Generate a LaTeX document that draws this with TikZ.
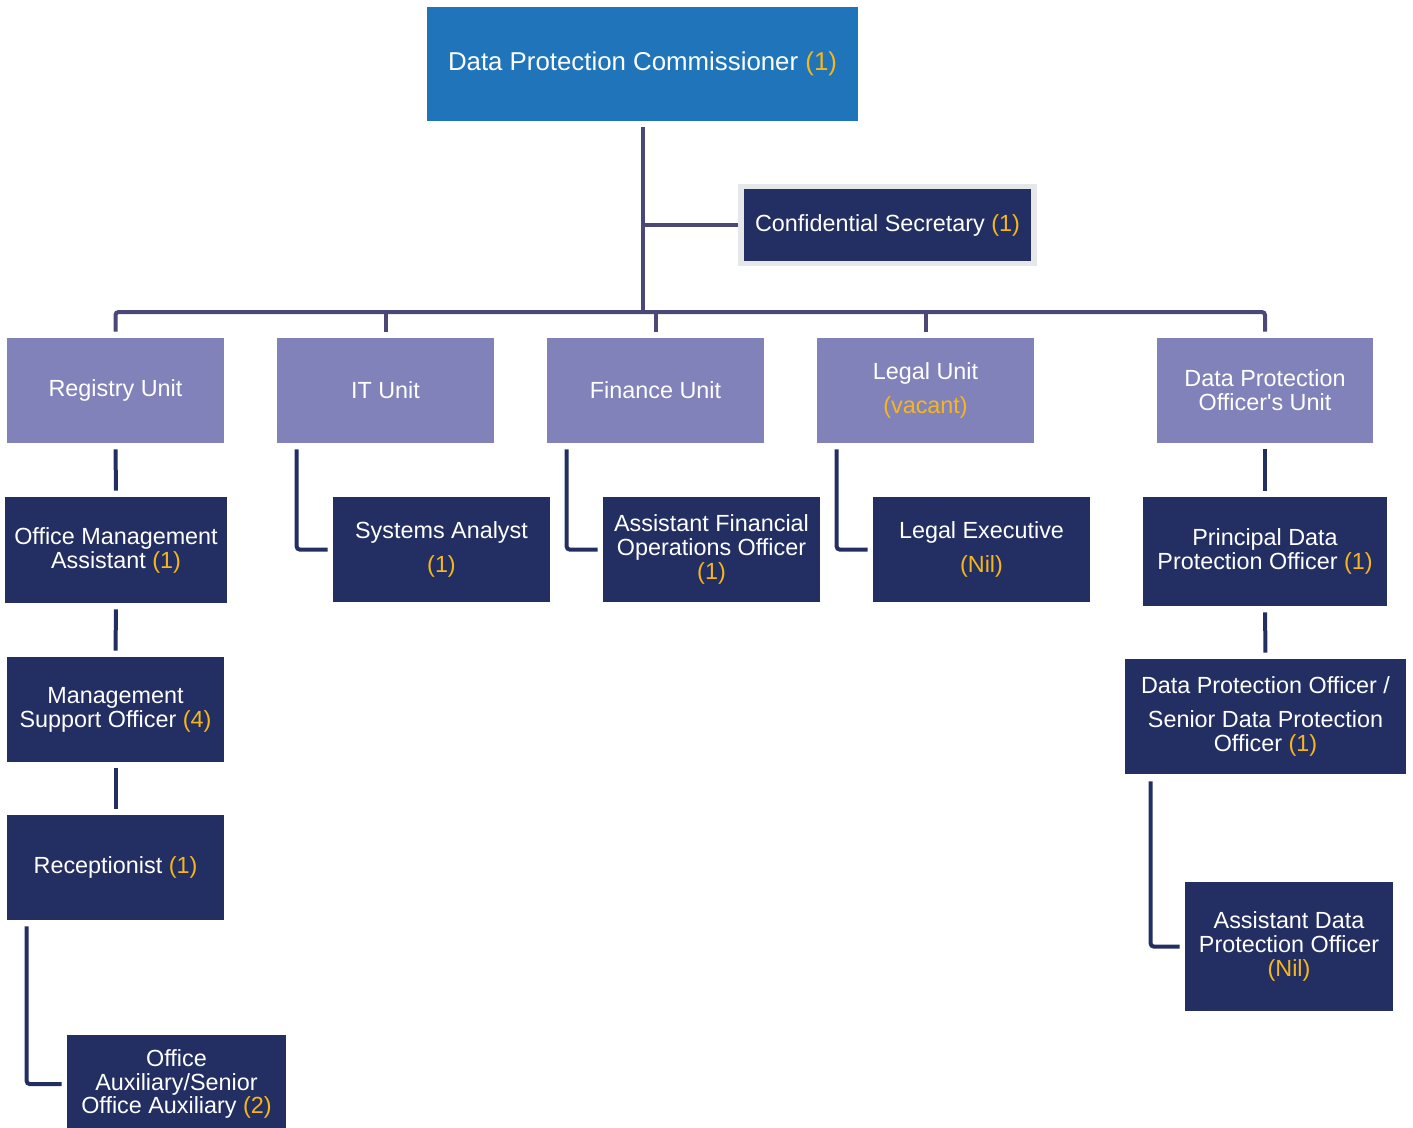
\documentclass[tikz,border=0pt]{standalone}
\usepackage{fontspec}
\setmainfont{Liberation Sans}
\definecolor{headblue}{HTML}{1F74BA}
\definecolor{unitlav}{HTML}{8282BA}
\definecolor{postnavy}{HTML}{232F62}
\definecolor{toplinecol}{HTML}{4B4878}
\definecolor{countcol}{HTML}{F6B61B}
\definecolor{secborder}{HTML}{E6E7E8}
\newcommand{\hc}[1]{\textcolor{countcol}{#1}}
\begin{document}
\begin{tikzpicture}[x=0.02cm, y=-0.02cm,
    box/.style={text=white, align=center, inner sep=0pt,
        font=\fontsize{13.3}{13.6}\selectfont},
    head/.style={box, fill=headblue, minimum width=8.62cm, minimum height=2.28cm,
        font=\fontsize{14.7}{16}\selectfont},
    unit/.style={box, fill=unitlav, minimum width=4.34cm, minimum height=2.1cm},
    post/.style={box, fill=postnavy, minimum width=4.34cm, minimum height=2.1cm},
    toplink/.style={draw=toplinecol, line width=0.08cm, rounded corners=0.06cm},
    sublink/.style={draw=postnavy, line width=0.08cm, rounded corners=0.06cm}]
    \useasboundingbox (0,0) rectangle (1413,1127);
    % top
    \node[head] (dpc) at (642.5,64) {Data Protection Commissioner \hc{(1)}};
    \node[post, draw=secborder, line width=0.11cm, minimum width=5.87cm,
        minimum height=1.54cm] (sec) at (887.5,225) {Confidential Secretary \hc{(1)}};
    \coordinate (bus) at (642.5,312);
    % units
    \node[unit] (reg) at (115.5,390.5) {Registry Unit};
    \node[unit] (itu) at (385.5,390.5) {IT Unit};
    \node[unit] (fin) at (655.5,390.5) {Finance Unit};
    \node[unit] (leg) at (925.5,390.5) {Legal Unit\\[5.5pt]\hc{(vacant)}};
    \node[unit] (dpou) at (1265,390.5) {Data Protection\\Officer\textquotesingle s Unit};
    % posts
    \node[post, minimum width=4.44cm, minimum height=2.12cm] (oma) at (116,550) {Office Management\\Assistant \hc{(1)}};
    \node[post] (mso) at (115.5,709.5) {Management\\Support Officer \hc{(4)}};
    \node[post] (rec) at (115.5,867.5) {Receptionist \hc{(1)}};
    \node[post, minimum width=4.38cm, minimum height=1.96cm] (oa) at (176.5,1084) {Office\\Auxiliary/Senior\\Office Auxiliary \hc{(2)}};
    \node[post] (sa) at (441.5,549.5) {Systems Analyst\\[5.5pt]\hc{(1)}};
    \node[post] (afo) at (711.5,549.5) {Assistant Financial\\Operations Officer\\\hc{(1)}};
    \node[post] (lex) at (981.5,549.5) {Legal Executive\\[5.5pt]\hc{(Nil)}};
    \node[post, minimum width=4.88cm, minimum height=2.18cm] (pdpo) at (1265,551.5) {Principal Data\\Protection Officer \hc{(1)}};
    \node[post, minimum width=5.62cm, minimum height=2.3cm] (sdpo) at (1265.5,716.5) {Data Protection Officer /\\[5.5pt]Senior Data Protection\\Officer \hc{(1)}};
    \node[post, minimum width=4.16cm, minimum height=2.58cm] (adpo) at (1289,946.5) {Assistant Data\\Protection Officer\\\hc{(Nil)}};
    % top links
    \draw[toplink, shorten <=0.12cm] (dpc.south) -- (bus);
    \draw[toplink] (dpc.south |- sec.west) -- (sec.west);
    \draw[toplink, shorten <=0.12cm, shorten >=0.12cm] (reg.north) |- (bus) -| (dpou.north);
    \draw[toplink, shorten >=0.12cm] (itu.north |- bus) -- (itu.north);
    \draw[toplink, shorten >=0.12cm] (fin.north |- bus) -- (fin.north);
    \draw[toplink, shorten >=0.12cm] (leg.north |- bus) -- (leg.north);
    % registry chain
    \draw[sublink, shorten <=0.12cm, shorten >=0.12cm] (reg.south) -- (oma.north);
    \draw[sublink, shorten <=0.12cm, shorten >=0.12cm] (oma.south) -- (mso.north);
    \draw[sublink, shorten <=0.12cm, shorten >=0.12cm] (mso.south) -- (rec.north);
    \draw[sublink, shorten <=0.12cm, shorten >=0.1cm] ([xshift=0.4cm]rec.south west) |- (oa.west);
    % unit elbows
    \draw[sublink, shorten <=0.12cm, shorten >=0.1cm] ([xshift=0.4cm]itu.south west) |- (sa.west);
    \draw[sublink, shorten <=0.12cm, shorten >=0.1cm] ([xshift=0.4cm]fin.south west) |- (afo.west);
    \draw[sublink, shorten <=0.12cm, shorten >=0.1cm] ([xshift=0.4cm]leg.south west) |- (lex.west);
    % dpo chain
    \draw[sublink, shorten <=0.12cm, shorten >=0.12cm] (dpou.south) -- (pdpo.north);
    \draw[sublink, shorten <=0.12cm, shorten >=0.12cm] (pdpo.south) -- (sdpo.north);
    \draw[sublink, shorten <=0.14cm, shorten >=0.1cm] ([xshift=0.52cm]sdpo.south west) |- (adpo.west);
\end{tikzpicture}
\end{document}
